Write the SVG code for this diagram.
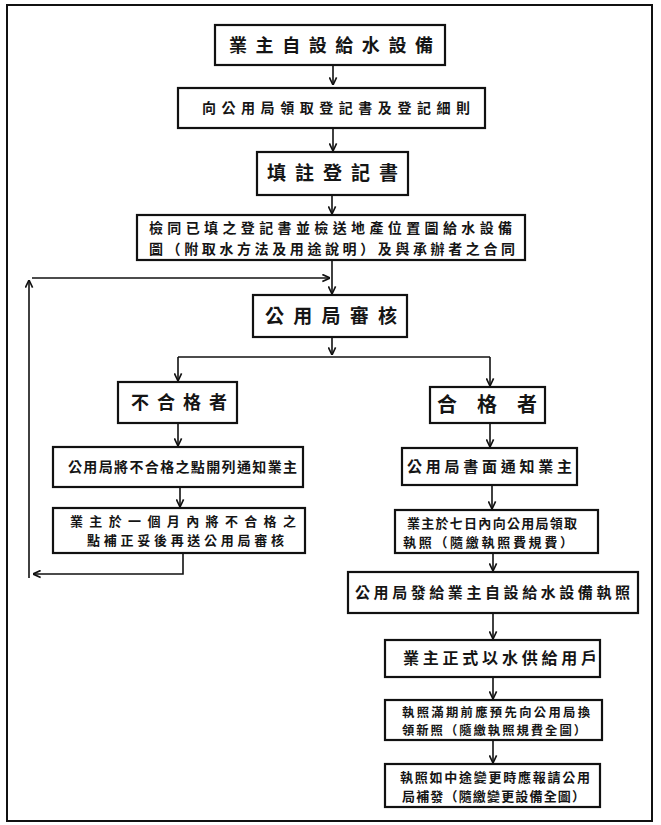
<svg xmlns="http://www.w3.org/2000/svg" width="661" height="825" viewBox="0 0 661 825">
<style>
.box{fill:#fff;stroke:#111;stroke-width:2.2}
.t{font-family:"Noto Sans CJK TC","Noto Sans CJK JP",sans-serif;fill:#151515;font-weight:700}
.c{fill:none;stroke:#111;stroke-width:1.6}
</style>
<defs>
<marker id="ah" viewBox="0 0 10 10" refX="9.5" refY="5" markerWidth="9" markerHeight="9" markerUnits="userSpaceOnUse" orient="auto">
<path d="M1,1 L9.5,5 L1,9" fill="none" stroke="#111" stroke-width="1.8"/>
</marker>
</defs>
<rect x="7" y="5" width="645" height="816" fill="none" stroke="#111" stroke-width="2"/>
<g id="connectors">
<path class="c" d="M333,65 V85" marker-end="url(#ah)"/>
<path class="c" d="M333,128 V151" marker-end="url(#ah)"/>
<path class="c" d="M332,195 V214" marker-end="url(#ah)"/>
<path class="c" d="M332,260 V294" marker-end="url(#ah)"/>
<path class="c" d="M332,337 V355" marker-end="url(#ah)"/>
<path class="c" d="M178,357 H490"/>
<path class="c" d="M178,357 V381" marker-end="url(#ah)"/>
<path class="c" d="M490,357 V386" marker-end="url(#ah)"/>
<path class="c" d="M178,423 V446" marker-end="url(#ah)"/>
<path class="c" d="M180,487 V507" marker-end="url(#ah)"/>
<path class="c" d="M183,553 V574 H33" marker-end="url(#ah)"/>
<path class="c" d="M29,578 V280" marker-end="url(#ah)"/>
<path class="c" d="M32,278 H330" marker-end="url(#ah)"/>
<path class="c" d="M490,423 V447" marker-end="url(#ah)"/>
<path class="c" d="M492,485 V509" marker-end="url(#ah)"/>
<path class="c" d="M493,553 V571" marker-end="url(#ah)"/>
<path class="c" d="M493,613 V639" marker-end="url(#ah)"/>
<path class="c" d="M493,677 V699" marker-end="url(#ah)"/>
<path class="c" d="M493,740 V763" marker-end="url(#ah)"/>
</g>
<g id="n1"><rect class="box" x="215" y="25" width="230" height="40"/>
<text class="t" x="229" y="52" font-size="18" textLength="204" lengthAdjust="spacing">業主自設給水設備</text></g>
<g id="n2"><rect class="box" x="178" y="88" width="307" height="40"/>
<text class="t" x="202" y="113" font-size="14" textLength="268" lengthAdjust="spacing">向公用局領取登記書及登記細則</text></g>
<g id="n3"><rect class="box" x="257" y="152" width="151" height="43"/>
<text class="t" x="267" y="180" font-size="19" textLength="131" lengthAdjust="spacing">填註登記書</text></g>
<g id="n4"><rect class="box" x="137" y="215" width="388" height="45"/>
<text class="t" x="149" y="233" font-size="14" textLength="363" lengthAdjust="spacing">檢同已填之登記書並檢送地產位置圖給水設備</text>
<text class="t" x="149" y="254" font-size="14" textLength="366" lengthAdjust="spacing">圖（附取水方法及用途說明）及與承辦者之合同</text></g>
<g id="n5"><rect class="box" x="253" y="295" width="154" height="42"/>
<text class="t" x="265" y="323" font-size="19" textLength="132" lengthAdjust="spacing">公用局審核</text></g>
<g id="n6L"><rect class="box" x="118" y="382" width="119" height="41"/>
<text class="t" x="131" y="409" font-size="18" textLength="96" lengthAdjust="spacing">不合格者</text></g>
<g id="n7L"><rect class="box" x="53" y="447" width="250" height="40"/>
<text class="t" x="68" y="472" font-size="14" textLength="229" lengthAdjust="spacing">公用局將不合格之點開列通知業主</text></g>
<g id="n8L"><rect class="box" x="53" y="508" width="252" height="45"/>
<text class="t" x="70" y="526" font-size="13" textLength="226" lengthAdjust="spacing">業主於一個月內將不合格之</text>
<text class="t" x="87" y="545" font-size="13" textLength="197" lengthAdjust="spacing">點補正妥後再送公用局審核</text></g>
<g id="n6R"><rect class="box" x="430" y="387" width="115" height="36"/>
<text class="t" x="437" y="412" font-size="20" textLength="100" lengthAdjust="spacing">合格者</text></g>
<g id="n7R"><rect class="box" x="402" y="448" width="175" height="37"/>
<text class="t" x="407" y="472" font-size="15" textLength="165" lengthAdjust="spacing">公用局書面通知業主</text></g>
<g id="n8R"><rect class="box" x="395" y="510" width="203" height="43"/>
<text class="t" x="407" y="528" font-size="13" textLength="170" lengthAdjust="spacing">業主於七日內向公用局領取</text>
<text class="t" x="403" y="547" font-size="13" textLength="170" lengthAdjust="spacing">執照（隨繳執照費規費）</text></g>
<g id="n9R"><rect class="box" x="348" y="572" width="290" height="41"/>
<text class="t" x="355" y="598" font-size="15" textLength="275" lengthAdjust="spacing">公用局發給業主自設給水設備執照</text></g>
<g id="n10R"><rect class="box" x="385" y="640" width="215" height="37"/>
<text class="t" x="403" y="664" font-size="16" textLength="194" lengthAdjust="spacing">業主正式以水供給用戶</text></g>
<g id="n11R"><rect class="box" x="385" y="700" width="217" height="40"/>
<text class="t" x="402" y="717" font-size="12.3" textLength="188" lengthAdjust="spacing">執照滿期前應預先向公用局換</text>
<text class="t" x="402" y="735" font-size="12.3" textLength="184" lengthAdjust="spacing">領新照（隨繳執照規費全圖）</text></g>
<g id="n12R"><rect class="box" x="385" y="764" width="215" height="43"/>
<text class="t" x="400" y="782" font-size="13" textLength="190" lengthAdjust="spacing">執照如中途變更時應報請公用</text>
<text class="t" x="402" y="801" font-size="13" textLength="183" lengthAdjust="spacing">局補發（隨繳變更設備全圖）</text></g>
</svg>
